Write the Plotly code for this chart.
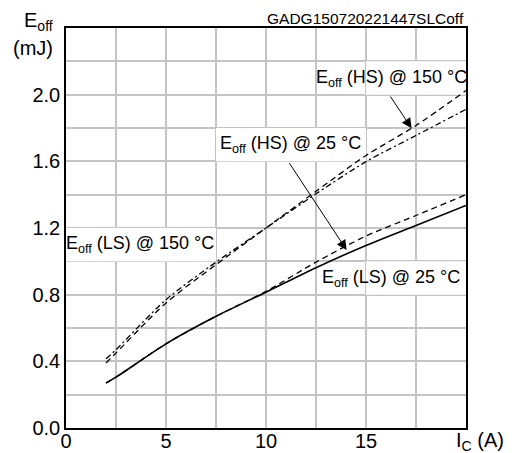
import plotly.graph_objects as go

# Data
ic = [2, 2.5, 5, 7.5, 10, 12.5, 15, 17.5, 20]
eoff_ls_25 = [0.27, 0.305, 0.505, 0.67, 0.815, 0.962, 1.095, 1.215, 1.335]
eoff_ls_150 = [0.27, 0.305, 0.505, 0.67, 0.82, 0.995, 1.152, 1.275, 1.40]
eoff_hs_25 = [0.415, 0.47, 0.77, 0.995, 1.20, 1.405, 1.598, 1.755, 1.912]
eoff_hs_150 = [0.39, 0.45, 0.75, 0.98, 1.20, 1.42, 1.635, 1.815, 2.025]

x_tickvals = [0, 5, 10, 15]
x_ticktext = ["0", "5", "10", "15"]
y_tickvals = [0.0, 0.4, 0.8, 1.2, 1.6, 2.0]
y_ticktext = ["0.0", "0.4", "0.8", "1.2", "1.6", "2.0"]

FONT = "Liberation Sans, Arial, sans-serif"
GRID = "#c4c4c4"
fig = go.Figure()

fig.add_trace(go.Scatter(x=ic, y=eoff_hs_25, mode="lines",
                         line=dict(color="black", width=1.3, dash="6px,3px,2px,3px",
                                   shape="spline", smoothing=0.8)))
fig.add_trace(go.Scatter(x=ic, y=eoff_hs_150, mode="lines",
                         line=dict(color="black", width=1.3, dash="6px,4px",
                                   shape="spline", smoothing=0.8)))
fig.add_trace(go.Scatter(x=ic, y=eoff_ls_150, mode="lines",
                         line=dict(color="black", width=1.3, dash="6px,4px",
                                   shape="spline", smoothing=0.8)))
fig.add_trace(go.Scatter(x=ic, y=eoff_ls_25, mode="lines",
                         line=dict(color="black", width=1.6, shape="spline", smoothing=0.8)))

# white label cells (above grid, below data)
cells = [(15, 20, 2.0, 2.2), (7.5, 15, 1.6, 1.8), (0, 7.5, 1.0, 1.2), (15, 20, 0.8, 1.0)]
for x0, x1, y0, y1 in cells:
    fig.add_shape(type="rect", xref="x", yref="y", x0=x0, x1=x1, y0=y0, y1=y1,
                  fillcolor="white", line=dict(width=0), layer="between")

labels = [
    ("E<sub>off</sub> (HS) @ 150 °C", 16.25, 2.1),
    ("E<sub>off</sub> (HS) @ 25 °C", 11.22, 1.7),
    ("E<sub>off</sub> (LS) @ 150 °C", 3.72, 1.1),
    ("E<sub>off</sub> (LS) @ 25 °C", 16.25, 0.9),
]
for txt, xx, yy in labels:
    fig.add_annotation(x=xx, y=yy, xref="x", yref="y", text=txt, showarrow=False,
                       font=dict(family=FONT, size=18, color="black"))

# arrows
arrows = [((16.17, 1.998), (17.28, 1.798)), ((11.12, 1.598), (14.03, 1.068))]
for (tx, ty), (hx, hy) in arrows:
    fig.add_annotation(x=hx, y=hy, ax=tx, ay=ty, xref="x", yref="y", axref="x", ayref="y",
                       text="", showarrow=True, arrowhead=2, arrowsize=2, arrowwidth=1,
                       arrowcolor="black", standoff=0)

# axis titles and code
fig.add_annotation(x=-0.0275, y=1.016, xref="paper", yref="paper", xanchor="right", yanchor="middle",
                   text="E<sub>off</sub>", showarrow=False, font=dict(family=FONT, size=20, color="black"))
fig.add_annotation(x=-0.0275, y=0.949, xref="paper", yref="paper", xanchor="right", yanchor="middle",
                   text="(mJ)", showarrow=False, font=dict(family=FONT, size=20, color="black"))
fig.add_annotation(x=1.035, y=-0.034, xref="paper", yref="paper", xanchor="center", yanchor="middle",
                   text="I<sub>C</sub> (A)", showarrow=False, font=dict(family=FONT, size=20, color="black"))
fig.add_annotation(x=1.0, y=1.0, xref="paper", yref="paper", xanchor="right", yanchor="bottom",
                   text="GADG150720221447SLCoff", showarrow=False, yshift=-1,
                   font=dict(family=FONT, size=15.5, color="black"))

fig.update_layout(
    width=512, height=453,
    margin=dict(l=66, r=46, t=28, b=25),
    paper_bgcolor="white", plot_bgcolor="white",
    showlegend=False,
    font=dict(family=FONT, size=20, color="black"),
    xaxis=dict(range=[0, 20], tickvals=x_tickvals, ticktext=x_ticktext, showgrid=True,
               gridcolor=GRID, gridwidth=1.5, showline=True, linecolor="black",
               linewidth=1.5, mirror=True, ticks="", zeroline=False, automargin=False,
               ticklabelstandoff=-6,
               minor=dict(dtick=2.5, tick0=0, showgrid=True, gridcolor=GRID, gridwidth=1.5, ticks=""),
               tickfont=dict(family=FONT, size=20, color="black")),
    yaxis=dict(range=[0, 2.4], tickvals=y_tickvals, ticktext=y_ticktext, showgrid=True,
               gridcolor=GRID, gridwidth=1.5, showline=True, linecolor="black",
               linewidth=1.5, mirror=True, ticks="", zeroline=False, automargin=False,
               minor=dict(dtick=0.2, tick0=0, showgrid=True, gridcolor=GRID, gridwidth=1.5, ticks=""),
               tickfont=dict(family=FONT, size=20, color="black")),
)

fig.write_html("out.html")
